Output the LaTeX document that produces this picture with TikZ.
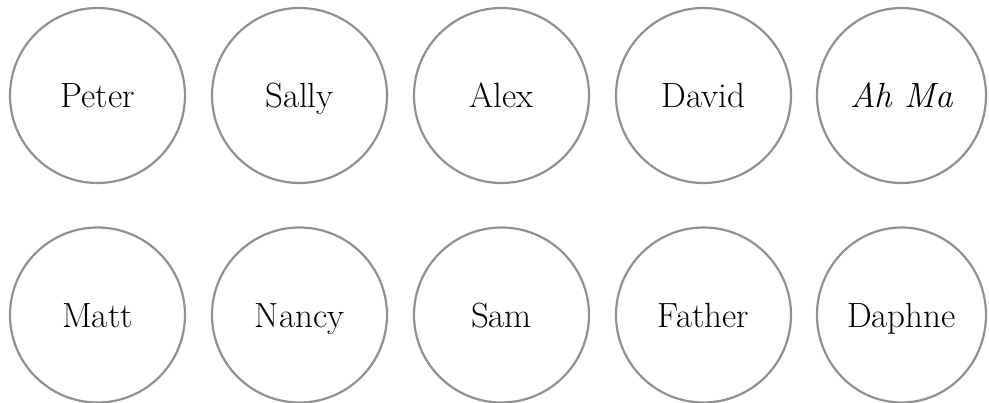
\documentclass[tikz,border=0pt]{standalone}
\usetikzlibrary{shapes.geometric}
\definecolor{ringgray}{RGB}{145,145,145}
\begin{document}
\begin{tikzpicture}[x=1pt,y=-1pt,
  person/.style={circle,draw=ringgray,line width=2.2pt,minimum size=175pt,inner sep=0pt,text height=32pt,text depth=7pt,font=\fontsize{35}{42}\selectfont},
  personlast/.style={ellipse,draw=ringgray,line width=2.2pt,minimum width=169pt,minimum height=175pt,inner sep=0pt,text height=32pt,text depth=7pt,font=\fontsize{35}{42}\selectfont}]
\useasboundingbox (0,0) rectangle (989,403);
\node[person] (peter) at (97.5,95.5) {Peter};
\node[person] (sally) at (299.5,95.5) {Sally};
\node[person] (alex) at (501.5,95.5) {Alex};
\node[person] (david) at (703.5,95.5) {David};
\node[personlast] (ahma) at (901.5,95.5) {\itshape Ah Ma};
\node[person] (matt) at (97.5,315) {Matt};
\node[person] (nancy) at (299.5,315) {Nancy};
\node[person] (sam) at (501.5,315) {Sam};
\node[person] (father) at (703.5,315) {Father};
\node[personlast] (daphne) at (901.5,315) {Daphne};
\end{tikzpicture}
\end{document}
